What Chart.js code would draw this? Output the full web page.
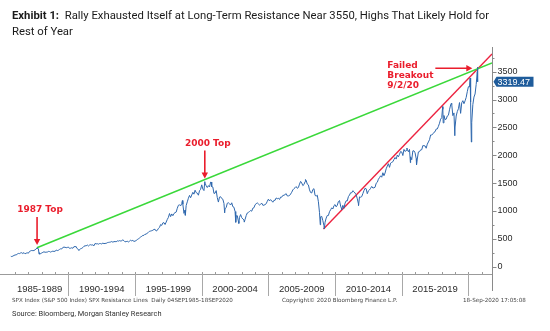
<!DOCTYPE html>
<html>
<head>
<meta charset="utf-8">
<script src="https://cdn.jsdelivr.net/npm/chart.js@4.4.1/dist/chart.umd.min.js"></script>
<style>
  html, body { margin: 0; padding: 0; background: #fff; }
  #wrap { position: relative; width: 550px; height: 331px; overflow: hidden; font-family: Roboto, "Liberation Sans", sans-serif; }
  #chart { position: absolute; left: 0; top: 0; }
  .title { position: absolute; left: 12px; top: 8px; width: 530px; font-size: 11.3px; line-height: 16px; color: #1a1a1a; white-space: nowrap; }
  .title b { font-weight: 700; }
  .foot { position: absolute; top: 297px; font-family: "DejaVu Sans", sans-serif; font-size: 5.6px; color: #444; white-space: nowrap; }
  .source { position: absolute; left: 12px; top: 309px; font-size: 7.4px; color: #333; white-space: nowrap; }
</style>
</head>
<body>
<div id="wrap">
  <canvas id="chart" width="550" height="331"></canvas>
  <div class="title"><b>Exhibit 1:</b>&nbsp; Rally Exhausted Itself at Long-Term Resistance Near 3550, Highs That Likely Hold for<br>Rest of Year</div>
  <div class="foot" style="left:12px">SPX Index (S&amp;P 500 Index) SPX Resistance Lines &nbsp;Daily 04SEP1985-18SEP2020</div>
  <div class="foot" style="left:282px">Copyright© 2020 Bloomberg Finance L.P.</div>
  <div class="foot" style="left:463px">18-Sep-2020 17:05:08</div>
  <div class="source">Source: Bloomberg, Morgan Stanley Research</div>
</div>
<script>
// SPX month-end closes, Sep 1985 .. Aug 2020
const spxMonthly = [
  182, 190, 202, 211,
  212, 227, 238, 235, 247, 251, 236, 253, 231, 243, 249, 242,
  274, 284, 291, 288, 290, 304, 318, 330, 322, 252, 230, 247,
  257, 268, 259, 261, 262, 274, 272, 262, 272, 279, 274, 278,
  297, 289, 295, 310, 321, 318, 346, 351, 349, 340, 346, 353,
  329, 332, 340, 331, 361, 358, 356, 323, 306, 304, 322, 330,
  344, 367, 375, 375, 390, 371, 388, 395, 388, 392, 375, 417,
  409, 413, 404, 415, 415, 408, 424, 414, 418, 419, 431, 436,
  439, 443, 452, 440, 450, 451, 448, 464, 459, 468, 462, 466,
  482, 467, 446, 451, 457, 444, 458, 475, 463, 472, 454, 459,
  470, 487, 500, 515, 533, 545, 562, 562, 584, 582, 605, 616,
  636, 640, 646, 654, 669, 671, 640, 652, 687, 705, 757, 741,
  786, 791, 757, 801, 848, 885, 954, 899, 947, 915, 955, 970,
  980, 1049, 1102, 1112, 1091, 1134, 1121, 957, 1017, 1099, 1164, 1229,
  1280, 1238, 1286, 1335, 1302, 1373, 1329, 1320, 1283, 1363, 1389, 1469,
  1394, 1366, 1499, 1452, 1421, 1455, 1431, 1518, 1437, 1429, 1315, 1320,
  1366, 1240, 1160, 1249, 1256, 1224, 1211, 1134, 1041, 1060, 1139, 1148,
  1130, 1107, 1147, 1077, 1067, 990, 912, 916, 815, 886, 936, 880,
  856, 841, 848, 917, 964, 975, 990, 1008, 996, 1051, 1058, 1112,
  1131, 1145, 1126, 1107, 1121, 1141, 1102, 1104, 1115, 1130, 1174, 1212,
  1181, 1204, 1181, 1157, 1192, 1191, 1234, 1220, 1229, 1207, 1249, 1248,
  1280, 1281, 1295, 1311, 1270, 1270, 1277, 1304, 1336, 1378, 1401, 1418,
  1438, 1407, 1421, 1482, 1531, 1503, 1455, 1474, 1527, 1549, 1481, 1468,
  1379, 1331, 1323, 1386, 1400, 1280, 1267, 1283, 1166, 969, 896, 903,
  826, 735, 798, 873, 919, 919, 987, 1021, 1057, 1036, 1096, 1115,
  1074, 1104, 1169, 1187, 1089, 1031, 1102, 1049, 1141, 1183, 1181, 1258,
  1286, 1327, 1326, 1364, 1345, 1321, 1292, 1219, 1131, 1253, 1247, 1258,
  1312, 1366, 1408, 1398, 1310, 1362, 1379, 1407, 1441, 1412, 1416, 1426,
  1498, 1515, 1569, 1598, 1631, 1606, 1686, 1633, 1682, 1757, 1806, 1848,
  1783, 1859, 1872, 1884, 1924, 1960, 1931, 2003, 1972, 2018, 2068, 2059,
  1995, 2105, 2068, 2086, 2107, 2063, 2104, 1972, 1920, 2079, 2080, 2044,
  1940, 1932, 2060, 2065, 2097, 2099, 2174, 2171, 2168, 2126, 2199, 2239,
  2279, 2364, 2363, 2384, 2412, 2423, 2470, 2472, 2519, 2575, 2648, 2674,
  2824, 2714, 2641, 2648, 2705, 2718, 2816, 2902, 2914, 2711, 2760, 2507,
  2704, 2784, 2834, 2946, 2752, 2942, 2980, 2926, 2977, 3038, 3141, 3231,
  3226, 2954, 2585, 2912, 3044, 3100, 3271, 3500
];

// intra-month highs / lows visible on the chart (decimal year, level)
const extremeDates  = [1985.68, 1987.65, 1987.80, 1990.54, 1990.78, 1998.55, 1998.77, 2000.23, 2000.70,
                       2001.72, 2002.55, 2002.78, 2003.19, 2007.78, 2008.89, 2009.19, 2010.50, 2011.33,
                       2011.76, 2015.39, 2015.65, 2016.11, 2018.07, 2018.11, 2018.72, 2018.98, 2020.13,
                       2020.22, 2020.67, 2020.715];
const extremeValues = [188, 337, 225, 369, 295, 1187, 923, 1527, 1520,
                       966, 797, 777, 800, 1565, 752, 677, 1022, 1363,
                       1099, 2130, 1867, 1829, 2873, 2581, 2931, 2351, 3386,
                       2237, 3580, 3319.47];

// resistance lines (start / end on the chart)
const longTermDates  = [1987.64, 2021.77];
const longTermValues = [340, 3657];
const trendDates     = [2009.13, 2021.77];
const trendValues    = [677, 3819];

const yTicks      = [0, 500, 1000, 1500, 2000, 2500, 3000, 3500];
const periodStart = [1985, 1990, 1995, 2000, 2005, 2010, 2015, 2020];
const periodNames = ['1985-1989', '1990-1994', '1995-1999', '2000-2004', '2005-2009', '2010-2014', '2015-2019'];
const lastPrice   = 3319.47;

const notes = [
  { lines: ['1987 Top'], at: [1987.65, 337], dir: 'down' },
  { lines: ['2000 Top'], at: [2000.23, 1527], dir: 'down' },
  { lines: ['Failed', 'Breakout', '9/2/20'], at: [2020.67, 3580], dir: 'right' }
];

// build the price series
let spx = spxMonthly.map(function (v, i) { return { x: 1985 + (9 + i) / 12, y: v }; });
extremeDates.forEach(function (d, i) { spx.push({ x: d, y: extremeValues[i] }); });
spx.sort(function (a, b) { return a.x - b.x; });

const RED = '#ea1d2c';

function arrowHead(ctx, x, y, dx, dy) {
  // tip at x,y pointing along dx,dy
  const s = 6, w = 3.2;
  ctx.beginPath();
  ctx.moveTo(x, y);
  ctx.lineTo(x - dx * s - dy * w, y - dy * s + dx * w);
  ctx.lineTo(x - dx * s + dy * w, y - dy * s - dx * w);
  ctx.closePath();
  ctx.fill();
}

const bbgAxes = {
  id: 'bbgAxes',
  afterDraw(chart) {
    const ctx = chart.ctx, a = chart.chartArea, x = chart.scales.x, y = chart.scales.y;
    ctx.save();

    // x axis line and yearly ticks
    ctx.strokeStyle = '#9b9b9b';
    ctx.lineWidth = 1;
    ctx.beginPath();
    ctx.moveTo(a.left, a.bottom + 0.5);
    ctx.lineTo(a.right, a.bottom + 0.5);
    for (let yr = 1986; yr <= 2021; yr++) {
      const px = Math.round(x.getPixelForValue(yr)) + 0.5;
      ctx.moveTo(px, a.bottom - 2);
      ctx.lineTo(px, a.bottom + 1);
    }
    ctx.stroke();

    // period separators and labels
    ctx.strokeStyle = '#a8a8a8';
    ctx.beginPath();
    periodStart.slice(1).forEach(function (yr) {
      const px = Math.round(x.getPixelForValue(yr)) + 0.5;
      ctx.moveTo(px, a.bottom);
      ctx.lineTo(px, a.bottom + 22);
    });
    ctx.stroke();
    ctx.fillStyle = '#2b2b2b';
    ctx.font = '9.5px "Liberation Sans"';
    ctx.textAlign = 'center';
    ctx.textBaseline = 'middle';
    periodNames.forEach(function (name, i) {
      const x0 = x.getPixelForValue(Math.max(periodStart[i], spx[0].x));
      const x1 = x.getPixelForValue(periodStart[i + 1]);
      ctx.fillText(name, (x0 + x1) / 2, a.bottom + 15);
    });

    // right y axis
    const ax = Math.round(a.right) + 0.5;
    ctx.strokeStyle = '#8a8a8a';
    ctx.beginPath();
    ctx.moveTo(ax, a.top);
    ctx.lineTo(ax, a.bottom + 17);
    yTicks.forEach(function (v) {
      const py = Math.round(y.getPixelForValue(v)) + 0.5;
      ctx.moveTo(ax, py);
      ctx.lineTo(ax + 4, py);
      const pm = Math.round(y.getPixelForValue(v + 250)) + 0.5;
      if (pm > a.top) { ctx.moveTo(ax, pm); ctx.lineTo(ax + 2, pm); }
    });
    ctx.stroke();
    ctx.fillStyle = '#2b2b2b';
    ctx.font = '9px "Liberation Sans"';
    ctx.textAlign = 'left';
    yTicks.forEach(function (v) {
      ctx.fillText(String(v), ax + 5, y.getPixelForValue(v));
    });

    // last price tag
    const ty = y.getPixelForValue(lastPrice);
    ctx.fillStyle = '#1f5c9b';
    ctx.beginPath();
    ctx.moveTo(ax + 1, ty);
    ctx.lineTo(ax + 4, ty - 5);
    ctx.lineTo(ax + 41, ty - 5);
    ctx.lineTo(ax + 41, ty + 5);
    ctx.lineTo(ax + 4, ty + 5);
    ctx.closePath();
    ctx.fill();
    ctx.fillStyle = '#fff';
    ctx.fillText(lastPrice.toFixed(2), ax + 5, ty + 0.5);

    // red annotations
    ctx.fillStyle = RED;
    ctx.strokeStyle = RED;
    ctx.lineWidth = 1.6;
    ctx.font = 'bold 9px "DejaVu Sans"';
    notes.forEach(function (n) {
      const px = x.getPixelForValue(n.at[0]);
      const py = y.getPixelForValue(n.at[1]);
      if (n.dir === 'down') {
        ctx.beginPath();
        ctx.moveTo(px, py - 31);
        ctx.lineTo(px, py - 8);
        ctx.stroke();
        arrowHead(ctx, px, py - 3, 0, 1);
        ctx.textAlign = 'center';
        ctx.fillText(n.lines[0], px + 3, py - 38);
      } else {
        ctx.beginPath();
        ctx.moveTo(px - 42, py + 1);
        ctx.lineTo(px - 10, py + 1);
        ctx.stroke();
        arrowHead(ctx, px - 5, py + 1, 1, 0);
        ctx.textAlign = 'left';
        n.lines.forEach(function (t, i) {
          ctx.fillText(t, px - 90, py - 2 + i * 10.3);
        });
      }
    });
    ctx.restore();
  }
};

new Chart(document.getElementById('chart'), {
  type: 'line',
  data: {
    datasets: [
      { data: spx, borderColor: '#2f68ae', borderWidth: 1, pointRadius: 0, tension: 0 },
      { data: longTermDates.map(function (d, i) { return { x: d, y: longTermValues[i] }; }),
        borderColor: '#3ad83a', borderWidth: 1.6, pointRadius: 0 },
      { data: trendDates.map(function (d, i) { return { x: d, y: trendValues[i] }; }),
        borderColor: '#ec2340', borderWidth: 1.4, pointRadius: 0 }
    ]
  },
  options: {
    responsive: false,
    animation: false,
    layout: { padding: { left: 0, right: 58, top: 47, bottom: 57 } },
    plugins: { legend: { display: false }, tooltip: { enabled: false } },
    scales: {
      x: { type: 'linear', min: 1984.87, max: 2021.77, display: false },
      y: { min: -131, max: 3943, display: false }
    }
  },
  plugins: [bbgAxes]
});
</script>
</body>
</html>
